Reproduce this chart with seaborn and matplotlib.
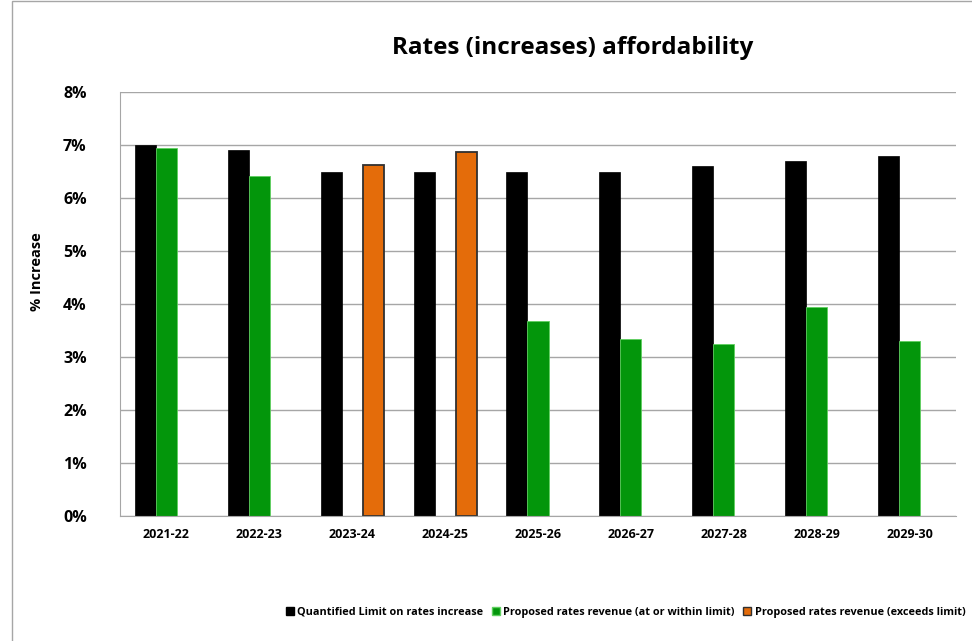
import numpy as np
import pandas as pd
import matplotlib
matplotlib.use("Agg")
import matplotlib.pyplot as plt
from matplotlib.colors import to_hex
from matplotlib.patches import Patch, Rectangle
from matplotlib.ticker import PercentFormatter
import seaborn as sns

# data
years = ["2021-22", "2022-23", "2023-24", "2024-25", "2025-26",
         "2026-27", "2027-28", "2028-29", "2029-30"]
limit = [7.0, 6.9, 6.5, 6.5, 6.5, 6.5, 6.6, 6.7, 6.8]
within = [6.94, 6.41, np.nan, np.nan, 3.67, 3.34, 3.25, 3.94, 3.31]
exceeds = [np.nan, np.nan, 6.62, 6.87, np.nan, np.nan, np.nan, np.nan, np.nan]

series_names = ["Quantified Limit on rates increase",
                "Proposed rates revenue (at or within limit)",
                "Proposed rates revenue (exceeds limit)"]
colors = ["#000000", "#03960b", "#e46c0a"]
edges = ["#000000", "#5fcf5f", "#303030"]
edge_w = [0.5, 0.6, 1.3]

df = pd.DataFrame({
    "year": years * 3,
    "value": limit + within + exceeds,
    "series": np.repeat(series_names, len(years)),
})

sns.set_style("white")
plt.rcParams["font.family"] = ["Open Sans", "DejaVu Sans"]
plt.rcParams["text.color"] = "black"
plt.rcParams["xtick.color"] = "black"
plt.rcParams["ytick.color"] = "black"

fig = plt.figure(figsize=(9.72, 6.41), dpi=100)
ax = fig.add_axes([120 / 972, 1 - 516 / 641, 836 / 972, 424 / 641])

sns.barplot(data=df, x="year", y="value", hue="series", hue_order=series_names,
            palette=colors, width=0.68, dodge=True, ax=ax, legend=False,
            saturation=1)

# edge colour per series, matched on face colour
for bar in ax.patches:
    fc = to_hex(bar.get_facecolor())
    if fc in colors:
        k = colors.index(fc)
        bar.set_edgecolor(edges[k])
        bar.set_linewidth(edge_w[k])

n = len(years)
ax.set_ylim(0, 8)
ax.set_xlim(-0.5, n - 0.5)
ax.set_yticks(range(0, 9))
ax.yaxis.set_major_formatter(PercentFormatter(decimals=0))
ax.grid(axis="y", color="#A6A6A6", linewidth=1.0)
ax.set_axisbelow(True)
for side in ["top", "right"]:
    ax.spines[side].set_visible(False)
ax.spines["left"].set_color("#A6A6A6")
ax.spines["bottom"].set_color("#A6A6A6")
ax.tick_params(axis="both", length=0, colors="black")
ax.tick_params(axis="y", pad=24, labelsize=11.5)
ax.tick_params(axis="x", pad=9, labelsize=9)
for lab in ax.get_xticklabels() + ax.get_yticklabels():
    lab.set_fontweight("bold")

ax.set_xlabel("")
ax.set_ylabel("")
fig.text(37 / 972, 1 - 272 / 641, "% Increase", rotation=90, ha="center",
         va="center", fontsize=10.5, fontweight="bold", color="black")
fig.text(573 / 972, 1 - 48 / 641, "Rates (increases) affordability",
         ha="center", va="center", fontsize=17.5, fontweight="bold",
         color="black")

handles = [Patch(facecolor=c, edgecolor=e, label=l)
           for c, e, l in zip(colors, edges, series_names)]
leg = fig.legend(handles=handles, loc="center left", ncol=3, frameon=False,
                 bbox_to_anchor=(278 / 972, 1 - 612 / 641),
                 prop={"weight": "bold", "size": 7.8},
                 handlelength=0.75, handleheight=0.75, handletextpad=0.3,
                 columnspacing=0.8, borderpad=0.2)
for t in leg.get_texts():
    t.set_color("black")

# outer chart border (left and top edges visible)
fig.patches.append(Rectangle((12 / 972, -0.01), 1.0, 1 - 1 / 641 + 0.01,
                             transform=fig.transFigure, fill=False,
                             edgecolor="#A6A6A6", linewidth=1.0))

fig.savefig("out.png", dpi=100)
